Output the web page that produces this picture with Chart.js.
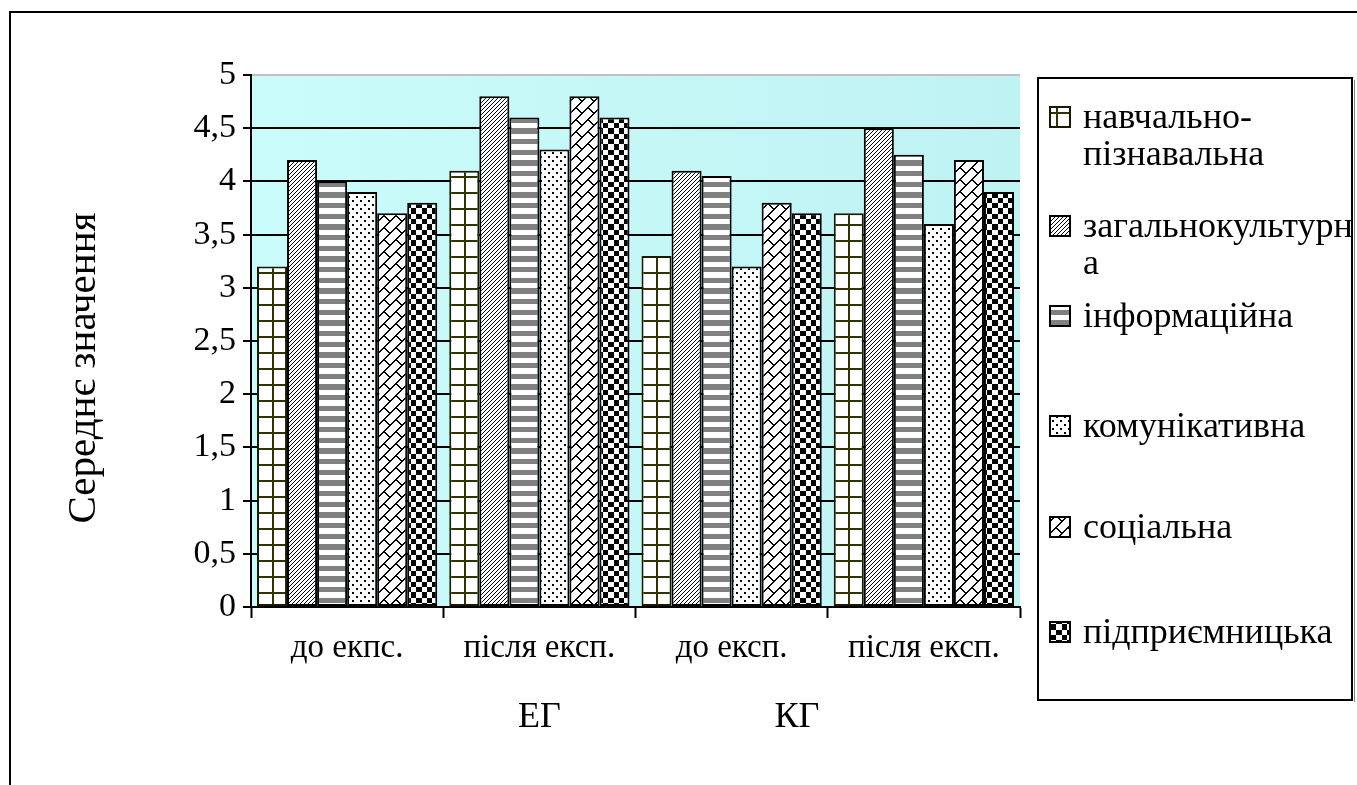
<!DOCTYPE html>
<html>
<head>
<meta charset="utf-8">
<script src="https://cdn.jsdelivr.net/npm/chart.js@4/dist/chart.umd.min.js"></script>
<style>
  html, body { margin: 0; padding: 0; background: #fff; }
  canvas { display: block; }
</style>
</head>
<body>
<canvas id="c" width="1357" height="785"></canvas>
<script>
// Categories along the x axis and the two group captions under them
const categories = ['до екпс.', 'після експ.', 'до експ.', 'після експ.'];
const groupCaptions = ['ЕГ', 'КГ'];

// Series names (legend text, wrapped the way the legend shows it)
const seriesNames = ['навчально-пізнавальна', 'загальнокультурна', 'інформаційна',
                     'комунікативна', 'соціальна', 'підприємницька'];
const legendLines = [['навчально-', 'пізнавальна'], ['загальнокультурн', 'а'], ['інформаційна'],
                     ['комунікативна'], ['соціальна'], ['підприємницька']];

// Mean values per category
const navchalnoPiznavalna = [3.2, 4.1, 3.3, 3.7];
const zagalnokulturna     = [4.2, 4.8, 4.1, 4.5];
const informatsiina       = [4.0, 4.6, 4.05, 4.25];
const komunikatyvna       = [3.9, 4.3, 3.2, 3.6];
const sotsialna           = [3.7, 4.8, 3.8, 4.2];
const pidpryiemnytska     = [3.8, 4.6, 3.7, 3.9];

// Y axis tick labels (decimal comma)
const yTickLabels = ['0', '0,5', '1', '1,5', '2', '2,5', '3', '3,5', '4', '4,5', '5'];
const axisTitle = 'Середнє значення';

const FONT = "'Liberation Serif', 'Times New Roman', serif";
const canvas = document.getElementById('c');
const ctx = canvas.getContext('2d');

// ---------- fill patterns (built pixel by pixel) ----------
function pixelTile(size, test) {
  const t = document.createElement('canvas');
  t.width = t.height = size;
  const g = t.getContext('2d');
  g.fillStyle = '#fff';
  g.fillRect(0, 0, size, size);
  for (let y = 0; y < size; y++) {
    for (let x = 0; x < size; x++) {
      const col = test(x, y);
      if (col) { g.fillStyle = col; g.fillRect(x, y, 1, 1); }
    }
  }
  return ctx.createPattern(t, 'repeat');
}

const mod = (a, n) => ((a % n) + n) % n;

const patterns = [
  // olive grid
  pixelTile(16, (x, y) => (x < 2 || y < 2 ? '#333300' : null)),
  // dense upward diagonal
  pixelTile(8, (x, y) => (mod(x + y, 4) === 3 ? '#000' : null)),
  // wide horizontal stripes
  pixelTile(32, (x, y) => (Math.floor(y * 3 / 16) % 2 === 0 ? '#808080' : null)),
  // staggered dots
  pixelTile(8, (x, y) => (((x >> 1) === 0 && (y >> 1) === 0) || ((x >> 1) === 2 && (y >> 1) === 2) ? '#000' : null)),
  // diagonal brick
  pixelTile(24, (x, y) => {
    const u = x + y, v = x - y;
    if (mod(u, 12) >= 10) return '#000';
    const r = Math.floor(u / 12) % 2;
    const vm = mod(v, 24);
    return (r === 0 ? vm <= 1 : (vm === 12 || vm === 13)) ? '#000' : null;
  }),
  // large checkerboard
  pixelTile(32, (x, y) => ((Math.floor(x * 3 / 16) + Math.floor(y * 3 / 16)) % 2 === 0 ? '#000' : null))
];

const seriesValues = [navchalnoPiznavalna, zagalnokulturna, informatsiina,
                      komunikatyvna, sotsialna, pidpryiemnytska];
const borderColours = ['#1a1a00', '#000', '#000', '#000', '#000', '#000'];

const datasets = seriesNames.map((name, i) => ({
  label: name,
  data: seriesValues[i],
  backgroundColor: patterns[i],
  borderColor: borderColours[i],
  borderWidth: 2,
  borderSkipped: false,
  categoryPercentage: 0.9375,
  barPercentage: 1.0
}));

// ---------- decorations ----------
const frameAndBackground = {
  id: 'frameAndBackground',
  beforeDraw(chart) {
    const c = chart.ctx;
    const a = chart.chartArea;
    c.save();
    c.fillStyle = '#fff';
    c.fillRect(0, 0, chart.width, chart.height);
    // outer frame
    c.strokeStyle = '#000';
    c.lineWidth = 2;
    c.strokeRect(10, 12, chart.width + 20, chart.height + 20);
    // plot area fill
    const grad = c.createLinearGradient(a.left, 0, a.right, 0);
    grad.addColorStop(0, '#cafcfc');
    grad.addColorStop(1, '#bff2f2');
    c.fillStyle = grad;
    c.fillRect(a.left, a.top, a.right - a.left, a.bottom - a.top);
    // light top edge of the plot area
    c.strokeStyle = '#c0c0c0';
    c.lineWidth = 2;
    c.beginPath();
    c.moveTo(a.left, a.top);
    c.lineTo(a.right, a.top);
    c.stroke();
    c.restore();
  },
  afterDraw(chart) {
    const c = chart.ctx;
    const a = chart.chartArea;
    const xs = chart.scales.x;
    c.save();
    c.fillStyle = '#000';
    // axis title
    c.font = '41px ' + FONT;
    c.textAlign = 'center';
    c.textBaseline = 'alphabetic';
    c.translate(95, (a.top + a.bottom) / 2 + 27);
    c.rotate(-Math.PI / 2);
    c.fillText(axisTitle, 0, 0);
    c.restore();

    // group captions under the category labels
    c.save();
    c.fillStyle = '#000';
    c.font = '36px ' + FONT;
    c.textAlign = 'center';
    c.textBaseline = 'alphabetic';
    const at = [1, 2.34];
    groupCaptions.forEach((g, i) => {
      c.fillText(g, xs.getPixelForValue(at[i]), 727);
    });
    c.restore();

    // legend
    c.save();
    c.strokeStyle = '#808080';
    c.lineWidth = 1;
    c.beginPath();
    c.moveTo(1354.5, 80); c.lineTo(1354.5, 702);
    c.stroke();
    c.strokeStyle = '#000';
    c.lineWidth = 2;
    c.strokeRect(1038, 78, 314, 622);
    const baselines = [128, 237, 327, 437, 538, 643];
    c.font = '36px ' + FONT;
    c.textAlign = 'left';
    c.textBaseline = 'alphabetic';
    chart.data.datasets.forEach((ds, i) => {
      const b = baselines[i];
      c.fillStyle = ds.backgroundColor;
      c.fillRect(1050, b - 21, 20, 20);
      c.strokeStyle = ds.borderColor;
      c.lineWidth = 2;
      c.strokeRect(1050, b - 21, 20, 20);
      c.fillStyle = '#000';
      legendLines[i].forEach((line, k) => c.fillText(line, 1083, b + k * 37));
    });
    c.restore();
  }
};

new Chart(ctx, {
  type: 'bar',
  data: { labels: categories, datasets },
  options: {
    responsive: false,
    devicePixelRatio: 1,
    animation: false,
    layout: { padding: { left: 0, top: 75, right: 337, bottom: 0 } },
    plugins: { legend: { display: false }, tooltip: { enabled: false }, title: { display: false } },
    scales: {
      x: {
        offset: true,
        grid: {
          offset: true,
          drawOnChartArea: false,
          drawTicks: true,
          tickLength: 11,
          tickColor: '#000',
          tickWidth: 2
        },
        border: { display: true, color: '#000', width: 2 },
        ticks: {
          color: '#000',
          font: { family: FONT, size: 33 },
          padding: 11,
          maxRotation: 0,
          autoSkip: false
        },
        afterFit(scale) { scale.height = 178; }
      },
      y: {
        min: 0,
        max: 5,
        grid: {
          color: (c) => (c.tick && c.tick.value === 5 ? 'rgba(0,0,0,0)' : '#000'),
          lineWidth: 2,
          tickColor: '#000',
          tickWidth: 2,
          tickLength: 8,
          drawTicks: true
        },
        border: { display: true, color: '#000', width: 2 },
        ticks: {
          stepSize: 0.5,
          color: '#000',
          font: { family: FONT, size: 34 },
          padding: 7,
          callback: (v, i) => yTickLabels[i]
        },
        afterFit(scale) { scale.width = 251; }
      }
    }
  },
  plugins: [frameAndBackground]
});
</script>
</body>
</html>
